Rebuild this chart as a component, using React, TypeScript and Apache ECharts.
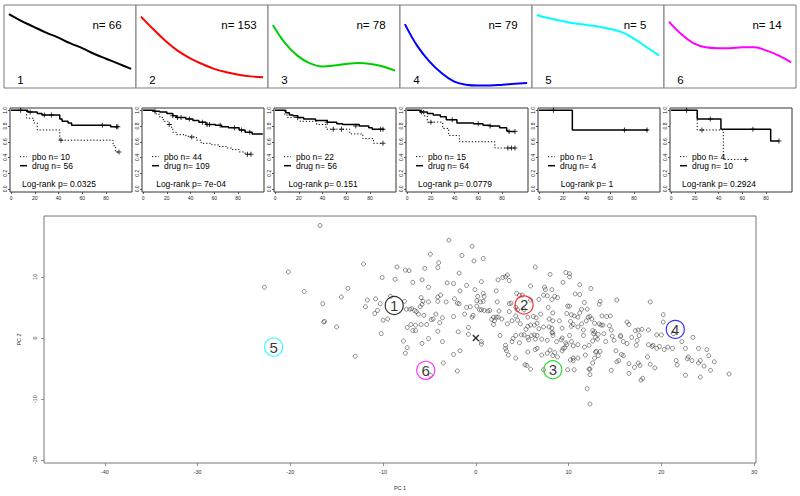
import React, { useEffect, useRef } from "react";
import * as echarts from "echarts";

// ---------- cluster profile panels ----------
const clusterIds = ["1", "2", "3", "4", "5", "6"];
const clusterN = [66, 153, 78, 79, 5, 14];
const clusterColors = ["#000000", "#FF0000", "#00CD00", "#0000FF", "#00FFFF", "#FF00FF"];
const profileX = [0, 0.1, 0.2, 0.3, 0.4, 0.5, 0.6, 0.7, 0.8, 0.9, 1.0];
const profile1 = [0.89, 0.81, 0.74, 0.67, 0.61, 0.54, 0.48, 0.41, 0.35, 0.29, 0.23];
const profile2 = [0.86, 0.71, 0.57, 0.45, 0.36, 0.29, 0.23, 0.19, 0.16, 0.14, 0.13];
const profile3 = [0.76, 0.54, 0.39, 0.3, 0.26, 0.27, 0.29, 0.3, 0.29, 0.26, 0.21];
const profile4 = [0.77, 0.51, 0.32, 0.18, 0.08, 0.04, 0.03, 0.03, 0.04, 0.05, 0.06];
const profile5 = [0.88, 0.84, 0.81, 0.78, 0.76, 0.74, 0.71, 0.67, 0.59, 0.49, 0.39];
const profile6 = [0.8, 0.65, 0.54, 0.49, 0.48, 0.48, 0.49, 0.49, 0.45, 0.39, 0.31];
const profiles = [profile1, profile2, profile3, profile4, profile5, profile6];

// ---------- Kaplan-Meier panels ----------
const kmTicksX = [0, 20, 40, 60, 80];
const kmTicksY = [0, 0.2, 0.4, 0.6, 0.8, 1.0];
const pboN = [10, 44, 22, 15, 1, 4];
const drugN = [56, 109, 56, 64, 4, 10];
const logrankP = ["0.0325", "7e-04", "0.151", "0.0779", "1", "0.2924"];

const drugSteps1 = [[0, 1], [14, 0.98], [22, 0.96], [26, 0.94], [41, 0.89], [43, 0.86], [48, 0.84], [51, 0.81], [84, 0.79], [90, 0.79]];
const drugCens1 = [[8, 1], [16, 0.98], [28, 0.94], [34, 0.94], [77, 0.81], [89, 0.79], [90, 0.79]];
const pboSteps1 = [[0, 1], [13, 0.9], [19, 0.84], [22, 0.75], [41, 0.62], [86, 0.55], [88, 0.47], [91, 0.47]];
const pboCens1 = [[42, 0.62], [91, 0.47]];

const drugSteps2 = [[0, 1], [9, 0.99], [14, 0.98], [20, 0.96], [25, 0.93], [28, 0.91], [36, 0.89], [42, 0.87], [47, 0.85], [53, 0.82], [61, 0.81], [66, 0.79], [72, 0.78], [81, 0.75], [86, 0.72], [92, 0.7], [101, 0.7]];
const drugCens2 = [[10, 0.99], [25, 0.93], [29, 0.91], [32, 0.91], [39, 0.89], [50, 0.85], [54, 0.82], [56, 0.82], [65, 0.81], [77, 0.78], [83, 0.75], [90, 0.72]];
const pboSteps2 = [[0, 1], [8, 0.98], [11, 0.95], [14, 0.91], [17, 0.86], [21, 0.82], [24, 0.77], [25, 0.72], [28, 0.69], [36, 0.67], [40, 0.66], [45, 0.62], [49, 0.58], [58, 0.56], [64, 0.54], [70, 0.52], [75, 0.5], [81, 0.47], [86, 0.44], [91, 0.44]];
const pboCens2 = [[22, 0.82], [41, 0.66], [88, 0.44], [91, 0.44]];

const drugSteps3 = [[0, 1], [9, 0.97], [12, 0.94], [15, 0.93], [19, 0.91], [24, 0.89], [34, 0.87], [44, 0.85], [52, 0.83], [57, 0.82], [71, 0.8], [79, 0.78], [82, 0.76], [92, 0.76]];
const drugCens3 = [[19, 0.91], [44, 0.85], [68, 0.8], [89, 0.76], [91, 0.76]];
const pboSteps3 = [[0, 1], [8, 0.95], [10, 0.91], [21, 0.86], [35, 0.82], [43, 0.76], [63, 0.7], [74, 0.64], [83, 0.58], [91, 0.58]];
const pboCens3 = [[49, 0.76], [56, 0.76], [91, 0.58]];

const drugSteps4 = [[0, 1], [11, 0.98], [17, 0.96], [22, 0.94], [28, 0.92], [33, 0.88], [42, 0.84], [56, 0.83], [64, 0.81], [70, 0.8], [78, 0.78], [84, 0.74], [85, 0.73], [91, 0.73]];
const drugCens4 = [[12, 0.98], [38, 0.88], [60, 0.83], [70, 0.8], [86, 0.73], [91, 0.73]];
const pboSteps4 = [[0, 1], [14, 0.93], [17, 0.85], [30, 0.77], [35, 0.68], [44, 0.6], [74, 0.52], [91, 0.52]];
const pboCens4 = [[20, 0.85], [85, 0.52], [88, 0.52], [91, 0.52]];

const drugSteps5 = [[0, 1], [28, 0.75], [92, 0.75]];
const drugCens5 = [[72, 0.75], [91, 0.75]];
const pboSteps5 = [[0, 1], [12, 1]];
const pboCens5 = [[12, 1]];

const drugSteps6 = [[0, 1], [22, 0.89], [42, 0.76], [84, 0.61], [91, 0.61]];
const drugCens6 = [[13, 1], [33, 0.89], [69, 0.76], [91, 0.61]];
const pboSteps6 = [[0, 1], [22, 0.75], [44, 0.375], [63, 0.375]];
const pboCens6 = [[26, 0.75], [63, 0.375]];

const drugSteps = [drugSteps1, drugSteps2, drugSteps3, drugSteps4, drugSteps5, drugSteps6];
const drugCens = [drugCens1, drugCens2, drugCens3, drugCens4, drugCens5, drugCens6];
const pboSteps = [pboSteps1, pboSteps2, pboSteps3, pboSteps4, pboSteps5, pboSteps6];
const pboCens = [pboCens1, pboCens2, pboCens3, pboCens4, pboCens5, pboCens6];

// ---------- PCA scatter ----------
const pcXTicks = [-40, -30, -20, -10, 0, 10, 20, 30];
const pcYTicks = [-20, -10, 0, 10];
const clusterX = [-8.8, 5.2, 8.3, 21.5, -21.8, -5.4];
const clusterY = [5.3, 5.4, -5.2, 1.4, -1.5, -5.3];
const originPoint = [[0, 0]];
const pcPoints = [
  [-16.8, 18.4], [-12.1, 12.1], [-20.2, 10.8], [-8.5, 11.6], [-10.1, 9.9], [-8.7, 9.6], [-22.8, 8.3], [-13.8, 8.1], [-18.5, 7.6], [-14.5, 6.7],
  [-9.2, 6.8], [-10.8, 6.4], [-11.7, 6.2], [-16.5, 5.6], [-10.3, 5.6], [-11.9, 5.1], [-10.6, 4.5], [-10.9, 4.0], [-9.5, 3.1], [-10.0, 2.9],
  [-16.4, 2.6], [-16.3, 2.7], [-15.0, 1.8], [-10.2, 0.7], [-13.0, -3.0],
  [-2.9, 16.0], [-0.4, 15.0], [-4.9, 13.7], [-1.5, 13.5], [0.8, 13.0], [-0.2, 12.6], [-4.0, 12.3], [-4.1, 11.5], [-5.5, 11.4], [-1.8, 10.6],
  [-7.6, 11.1], [-7.2, 11.0], [6.4, 11.6], [9.7, 10.7], [10.1, 10.5], [10.1, 10.0], [8.0, 10.4], [3.4, 10.3], [3.2, 10.0], [2.9, 9.9],
  [3.6, 9.4], [2.4, 9.5], [11.2, 8.7], [-5.8, 9.5], [-6.8, 9.1], [-3.1, 9.0], [-2.4, 8.9], [0.6, 9.2], [-1.0, 8.6], [9.4, 9.1],
  [7.4, 8.3], [7.5, 7.9], [5.9, 8.5], [12.4, 8.1], [-5.1, 8.3], [-1.7, 7.7], [2.2, 7.7], [-0.1, 7.9], [-3.8, 7.0], [-4.1, 6.7],
  [8.2, 7.9], [4.4, 7.3], [4.7, 7.0], [5.0, 7.0], [0.8, 7.3], [0.9, 6.8], [0.2, 6.8], [7.7, 6.9], [7.3, 7.0], [8.5, 6.8],
  [8.8, 6.6], [10.7, 7.2], [11.2, 7.1], [-5.9, 6.6], [-5.7, 6.0], [-2.3, 6.4], [-2.0, 5.7], [-1.8, 5.6], [-5.1, 5.9], [-4.1, 6.0],
  [-3.2, 5.9], [0.1, 6.1], [0.5, 5.9], [0.8, 6.0], [2.3, 5.9], [3.6, 5.6], [3.8, 5.7], [6.8, 6.3], [5.9, 6.2], [8.2, 6.3],
  [13.4, 6.0], [13.3, 5.5], [15.2, 6.2], [18.8, 5.9], [11.7, 5.8], [12.0, 4.7], [7.8, 5.0], [9.9, 5.2], [10.1, 5.2], [-1.0, 5.0],
  [-0.6, 5.1], [0.4, 4.6], [0.6, 4.6], [0.1, 5.2], [0.9, 4.5], [1.3, 4.4], [1.5, 4.5], [2.5, 4.4], [-7.5, 4.7], [-7.1, 4.7],
  [-6.6, 4.5], [-6.4, 4.3], [-6.2, 3.9], [-6.9, 4.8], [-6.0, 5.1], [-5.8, 5.5], [-7.7, 6.0], [4.3, 5.0], [4.5, 4.6], [3.6, 4.3],
  [5.2, 4.6], [5.6, 3.4], [6.2, 3.5], [6.5, 3.3], [7.0, 3.9], [8.3, 4.1], [9.8, 4.0], [10.3, 3.8], [10.6, 3.6], [11.0, 3.4],
  [11.2, 4.1], [11.4, 4.7], [12.1, 3.4], [12.3, 3.5], [12.5, 3.1], [13.6, 3.6], [14.1, 3.5], [14.5, 3.6], [12.8, 2.4], [-0.3, 3.7],
  [-0.4, 3.4], [-1.2, 3.9], [1.7, 3.0], [2.0, 2.8], [1.9, 3.4], [2.2, 3.4], [2.4, 3.4], [2.8, 3.1], [4.3, 3.6], [4.5, 2.9],
  [3.9, 2.8], [6.6, 2.4], [7.9, 3.1], [8.3, 2.8], [9.0, 2.8], [10.2, 2.7], [11.9, 2.8], [11.4, 2.3], [13.3, 2.3], [13.5, 2.1],
  [13.7, 2.1], [14.4, 2.0], [16.3, 2.6], [16.5, 2.2], [20.2, 3.8], [20.2, 2.6], [-5.6, 3.7], [-4.8, 3.0], [-4.6, 3.1], [-4.3, 3.9],
  [-3.9, 2.5], [-3.6, 3.3], [-2.4, 3.5], [-7.0, 2.2], [-6.5, 2.1], [-5.9, 2.2], [-5.3, 2.2], [-7.4, 1.7], [-6.8, 1.2], [-6.5, 1.2],
  [-4.1, 1.1], [-1.9, 1.0], [-0.8, 1.7], [1.9, 2.2], [3.4, 2.3], [4.8, 2.3], [5.4, 1.4], [5.6, 1.9], [5.9, 2.1], [6.3, 2.1],
  [6.8, 1.5], [7.3, 1.8], [7.9, 1.8], [8.2, 1.6], [8.2, 0.9], [8.3, 0.8], [9.3, 1.6], [10.3, 1.9], [10.5, 2.2], [11.0, 1.8],
  [11.6, 1.3], [12.6, 1.2], [12.7, 0.7], [12.8, 1.0], [13.2, 0.6], [13.8, 0.7], [14.6, 1.3], [15.6, 0.4], [17.2, 1.2], [17.5, 1.3],
  [17.9, 1.4], [18.6, 1.3], [19.5, 0.5], [20.0, 0.5], [21.3, 0.7], [23.4, 0.1], [2.6, 0.4], [4.3, 0.4], [4.9, 0.5], [5.2, 0.5],
  [5.6, 0.1], [5.7, -0.3], [6.0, 0.4], [6.3, 0.5], [6.4, -0.2], [6.6, 0.4], [7.1, -0.2], [7.7, -0.4], [8.3, 0.4], [8.7, -0.6],
  [9.2, -0.3], [9.3, 0.0], [9.7, -0.8], [9.8, -1.1], [10.1, 0.4], [10.3, -0.6], [10.5, -1.3], [11.0, -1.1], [11.6, 0.4], [11.7, -1.5],
  [12.2, -1.2], [12.6, -0.5], [12.9, 0.1], [13.1, -0.2], [14.0, -0.6], [14.7, 0.3], [14.9, -0.4], [15.6, 0.2], [15.9, -0.6], [16.3, -0.9],
  [16.8, 0.1], [17.3, -1.2], [17.4, -0.4], [17.6, 0.4], [18.6, -1.1], [19.0, -1.4], [19.1, -1.2], [19.5, -1.7], [19.8, -1.4], [20.3, -1.9],
  [20.7, -1.5], [21.2, -1.7], [22.2, -0.6], [22.6, -1.7], [24.0, -1.7], [24.9, -1.9], [-7.8, -0.5], [-7.6, -2.5], [-7.4, -1.6], [-5.8, -0.9],
  [-5.1, -0.1], [-3.6, -0.6], [-0.8, 0.6], [0.6, -0.6], [0.6, -1.0], [-2.4, -2.7], [-1.7, -2.1], [-3.5, -4.1], [-2.0, -5.4], [3.2, -1.2],
  [3.2, -1.7], [3.3, -2.1], [3.5, -2.8], [3.9, -0.6], [4.0, -0.1], [4.3, -3.3], [4.7, -0.8], [5.6, -2.3], [6.4, -1.9], [6.6, -1.7],
  [5.3, -4.4], [5.5, -4.5], [5.9, -5.1], [7.1, -2.8], [7.3, -5.2], [7.7, -2.5], [8.0, -2.0], [8.3, -2.9], [8.5, -2.4], [8.8, -3.1],
  [9.3, -2.1], [9.4, -1.7], [9.6, -1.6], [9.9, -5.2], [10.2, -3.6], [10.5, -3.3], [10.6, -5.2], [10.5, -3.7], [11.0, -3.3], [11.8, -2.8],
  [12.2, -5.1], [12.3, -5.1], [12.3, -6.0], [12.0, -8.3], [12.3, -10.8], [12.6, -4.1], [12.8, -3.3], [12.9, -2.3], [13.0, -2.2], [13.2, -2.9],
  [13.4, -2.2], [14.6, -5.3], [15.1, -2.1], [15.2, -3.9], [15.4, -3.7], [15.9, -2.9], [15.7, -2.7], [16.5, -5.8], [16.5, -4.2], [17.1, -4.8],
  [17.5, -4.1], [17.7, -4.5], [17.8, -6.9], [18.0, -6.6], [18.5, -3.1], [18.8, -4.3], [19.3, -4.9], [21.6, -3.7], [21.7, -4.4], [22.6, -6.1],
  [22.8, -3.4], [22.9, -3.1], [23.3, -3.7], [24.2, -6.4], [24.0, -4.1], [24.2, -3.7], [24.6, -4.6], [25.1, -2.9], [25.3, -5.3], [25.7, -3.9],
  [27.3, -5.9], [-4.9, -6.1],
];

const FONT = "'Liberation Sans', Arial, Helvetica, sans-serif";
const PLUS = "path://M4,0H6V4H10V6H6V10H4V6H0V4H4Z";
const CROSS = "path://M0,1.5L1.5,0L5,3.5L8.5,0L10,1.5L6.5,5L10,8.5L8.5,10L5,6.5L1.5,10L0,8.5L3.5,5Z";

function buildOption() {
  const grid: any[] = [];
  const xAxis: any[] = [];
  const yAxis: any[] = [];
  const series: any[] = [];
  const elements: any[] = [];

  // top profile panels
  for (let i = 0; i < 6; i++) {
    const L = 4 + 132 * i;
    grid.push({ left: L, top: 5, width: 132, height: 83, show: true, borderColor: "#7a7a7a", borderWidth: 1, backgroundColor: "#fff" });
    xAxis.push({ gridIndex: i, type: "value", min: -0.04, max: 1.04, show: false });
    yAxis.push({ gridIndex: i, type: "value", min: 0, max: 1, show: false });
    series.push({
      type: "line", xAxisIndex: i, yAxisIndex: i, smooth: 0.4, showSymbol: false, silent: true,
      data: profileX.map((x, j) => [x, profiles[i][j]]),
      lineStyle: { color: clusterColors[i], width: 2 },
    });
    elements.push({ type: "text", x: L + 103, y: 25, style: { text: "n= " + clusterN[i], font: `11.5px ${FONT}`, fill: "#000", align: "center", verticalAlign: "middle", textAlign: "center", textVerticalAlign: "middle" } });
    elements.push({ type: "text", x: L + 16.5, y: 80, style: { text: clusterIds[i], font: `11.5px ${FONT}`, fill: "#000", align: "center", verticalAlign: "middle", textAlign: "center", textVerticalAlign: "middle" } });
  }

  // KM panels
  for (let i = 0; i < 6; i++) {
    const g = 6 + i;
    const L = 10 + 132 * i;
    grid.push({ left: L, top: 108, width: 122, height: 84, show: true, borderColor: "#333", borderWidth: 1 });
    xAxis.push({
      gridIndex: g, type: "value", min: -1, max: 102,
      axisLine: { show: false, onZero: false }, splitLine: { show: false },
      axisTick: { show: true, length: 2, customValues: kmTicksX, lineStyle: { color: "#333", width: 0.8 } },
      axisLabel: { customValues: kmTicksX, fontSize: 5, margin: 3, color: "#222", fontFamily: FONT },
    });
    yAxis.push({
      gridIndex: g, type: "value", min: -0.04, max: 1.03,
      axisLine: { show: false, onZero: false }, splitLine: { show: false },
      axisTick: { show: true, length: 2, customValues: kmTicksY, lineStyle: { color: "#333", width: 0.8 } },
      axisLabel: { customValues: kmTicksY, fontSize: 5, margin: 3, rotate: 90, color: "#222", fontFamily: FONT, formatter: (v: number) => v.toFixed(1) },
    });
    series.push({ type: "line", xAxisIndex: g, yAxisIndex: g, step: "end", showSymbol: false, silent: true, data: pboSteps[i], lineStyle: { color: "#000", width: 1, type: [1.2, 2] } });
    series.push({ type: "line", xAxisIndex: g, yAxisIndex: g, step: "end", showSymbol: false, silent: true, data: drugSteps[i], lineStyle: { color: "#000", width: 1.5 } });
    series.push({ type: "scatter", xAxisIndex: g, yAxisIndex: g, symbol: PLUS, symbolSize: 5, silent: true, data: pboCens[i], itemStyle: { color: "#000" } });
    series.push({ type: "scatter", xAxisIndex: g, yAxisIndex: g, symbol: PLUS, symbolSize: 5, silent: true, data: drugCens[i], itemStyle: { color: "#000" } });

    elements.push({ type: "line", shape: { x1: L + 10, y1: 156.7, x2: L + 17, y2: 156.7 }, style: { stroke: "#000", lineWidth: 1, lineDash: [1.2, 2] } });
    elements.push({ type: "line", shape: { x1: L + 10, y1: 165.7, x2: L + 17, y2: 165.7 }, style: { stroke: "#000", lineWidth: 1.5 } });
    elements.push({ type: "text", x: L + 22, y: 157, style: { text: "pbo n= " + pboN[i], font: `8.5px ${FONT}`, fill: "#000", align: "left", verticalAlign: "middle", textAlign: "left", textVerticalAlign: "middle" } });
    elements.push({ type: "text", x: L + 22, y: 166, style: { text: "drug n= " + drugN[i], font: `8.5px ${FONT}`, fill: "#000", align: "left", verticalAlign: "middle", textAlign: "left", textVerticalAlign: "middle" } });
    elements.push({ type: "text", x: L + 49, y: 183.5, style: { text: "Log-rank p= " + logrankP[i], font: `8.5px ${FONT}`, fill: "#000", align: "center", verticalAlign: "middle", textAlign: "center", textVerticalAlign: "middle" } });
  }

  // PCA scatter
  const sg = 12;
  grid.push({ left: 44, top: 216, width: 712, height: 253, show: true, borderColor: "#777", borderWidth: 1 });
  xAxis.push({
    gridIndex: sg, type: "value", min: -46.55, max: 30.2,
    axisLine: { show: false, onZero: false }, splitLine: { show: false },
    axisTick: { show: true, length: 3, customValues: pcXTicks, lineStyle: { color: "#777", width: 0.8 } },
    axisLabel: { customValues: pcXTicks, fontSize: 5.5, margin: 6, color: "#333", fontFamily: FONT },
    name: "PC 1", nameLocation: "middle", nameGap: 22, nameTextStyle: { fontSize: 5.5, color: "#333", fontFamily: FONT },
  });
  yAxis.push({
    gridIndex: sg, type: "value", min: -20.46, max: 19.95,
    axisLine: { show: false, onZero: false }, splitLine: { show: false },
    axisTick: { show: true, length: 3, customValues: pcYTicks, lineStyle: { color: "#777", width: 0.8 } },
    axisLabel: { customValues: pcYTicks, fontSize: 5.5, margin: 6, rotate: 90, color: "#333", fontFamily: FONT },
    name: "PC 2", nameLocation: "middle", nameGap: 22, nameTextStyle: { fontSize: 5.5, color: "#333", fontFamily: FONT },
  });
  series.push({
    type: "scatter", xAxisIndex: sg, yAxisIndex: sg, symbol: "circle", symbolSize: 4, silent: true,
    data: pcPoints, itemStyle: { color: "rgba(0,0,0,0)", borderColor: "#333", borderWidth: 0.7 },
  });
  series.push({
    type: "scatter", xAxisIndex: sg, yAxisIndex: sg, symbol: CROSS, symbolSize: 7, silent: true,
    data: originPoint, itemStyle: { color: "#000" },
  });
  series.push({
    type: "scatter", xAxisIndex: sg, yAxisIndex: sg, symbol: "circle", symbolSize: 18, silent: true, z: 5,
    data: clusterIds.map((id, i) => ({
      name: id, value: [clusterX[i], clusterY[i]],
      itemStyle: { color: "rgba(255,255,255,0)", borderColor: clusterColors[i], borderWidth: 1.2 },
    })),
    label: { show: true, position: "inside", formatter: (p: any) => p.name, fontSize: 15, color: "#000", fontFamily: FONT },
  });

  return {
    animation: false,
    backgroundColor: "#fff",
    grid, xAxis, yAxis, series,
    graphic: { elements },
  };
}

export default function App() {
  const ref = useRef<HTMLDivElement>(null);
  useEffect(() => {
    const chart = echarts.init(ref.current!, null, { renderer: "svg" });
    chart.setOption(buildOption() as any);
    return () => chart.dispose();
  }, []);
  return <div ref={ref} style={{ position: "fixed", left: 0, top: 0, width: 800, height: 496 }} />;
}
